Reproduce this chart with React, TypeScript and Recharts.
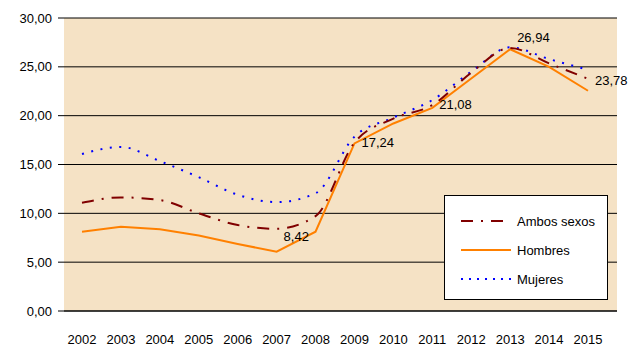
import { CartesianGrid, LabelList, Legend, Line, LineChart, XAxis, YAxis } from 'recharts';

const years = ['2002', '2003', '2004', '2005', '2006', '2007', '2008', '2009', '2010', '2011', '2012', '2013', '2014', '2015'];
const ambos = [11.08, 11.63, 11.36, 10.0, 8.8, 8.42, 9.72, 17.24, 19.7, 21.08, 24.4, 26.94, 25.35, 23.78];
const hombres = [8.12, 8.62, 8.38, 7.72, 6.86, 6.07, 8.12, 17.16, 19.2, 20.8, 23.8, 26.8, 25.0, 22.55];
const mujeres = [16.07, 16.8, 15.35, 13.7, 11.9, 11.15, 12.05, 17.85, 19.8, 21.6, 24.5, 27.0, 25.8, 24.7];
const yTicks = [0, 5, 10, 15, 20, 25, 30];
const labeledYears = ['2007', '2009', '2011', '2013', '2015'];

const data = years.map((year, i) => ({
  year,
  ambos: ambos[i],
  hombres: hombres[i],
  mujeres: mujeres[i],
}));

const fmt = (v: number) => v.toFixed(2).replace('.', ',');

const FONT = '"Liberation Sans", Arial, sans-serif';

// tweak offsets per labelled point so text sits like the original
const labelDy: Record<string, number> = { '2007': 8, '2009': 0, '2011': -1, '2013': -10.5, '2015': 2 };

const series = [
  { key: 'ambos', name: 'Ambos sexos', color: '#800000', dash: '12 8 2 8' },
  { key: 'hombres', name: 'Hombres', color: '#FF8000', dash: undefined },
  { key: 'mujeres', name: 'Mujeres', color: '#0000FF', dash: '2 6' },
];

function renderLegend() {
  return (
    <svg width={164} height={105} style={{ display: 'block' }}>
      <rect x={0.5} y={0.5} width={163} height={104} fill="#fff" stroke="#000" />
      {series.map((s, i) => {
        const cy = 26 + i * 29;
        return (
          <g key={s.key}>
            <line x1={17} x2={67} y1={cy} y2={cy} stroke={s.color} strokeWidth={2} strokeDasharray={s.dash} />
            <text x={73} y={cy} dominantBaseline="central" fontSize={13} fontFamily={FONT} fill="#000">
              {s.name}
            </text>
          </g>
        );
      })}
    </svg>
  );
}

function renderLabel(props: any) {
  const { x, y, value, index } = props;
  const year = years[index];
  if (!labeledYears.includes(year)) return null;
  return (
    <text x={x + 7} y={y + labelDy[year]} dominantBaseline="central" fontSize={13} fontFamily={FONT} fill="#000">
      {fmt(value)}
    </text>
  );
}

export default function App() {
  return (
    <div style={{ position: 'relative', width: 640, height: 360, background: '#fff' }}>
      <style>{'body{margin:0}'}</style>
      <LineChart
        width={640}
        height={360}
        data={data}
        margin={{ top: 18, right: 23, bottom: 0, left: 0 }}
        style={{ fontFamily: FONT }}
      >
        <CartesianGrid vertical={false} stroke="#000" fill="#F5E2C5" fillOpacity={1} />
        <XAxis
          dataKey="year"
          padding={{ left: 18, right: 29 }}
          height={49}
          interval={0}
          tickLine={false}
          tickSize={0}
          tickMargin={24}
          axisLine={{ stroke: '#000' }}
          tick={{ fontSize: 13, fill: '#000' }}
        />
        <YAxis
          domain={[0, 30]}
          ticks={yTicks}
          width={64}
          axisLine={false}
          tickLine={{ stroke: '#000' }}
          tickSize={6}
          tickMargin={6}
          tickFormatter={fmt}
          tick={{ fontSize: 13, fill: '#000' }}
        />
        <Legend
          layout="vertical"
          align="center"
          verticalAlign="middle"
          content={renderLegend}
          wrapperStyle={{ position: 'absolute', left: 444, top: 195, width: 164, height: 105 }}
        />
        <Line
          type="monotone"
          dataKey="mujeres"
          name="Mujeres"
          stroke="#0000FF"
          strokeWidth={2}
          strokeDasharray="2 7.5"
          dot={false}
          isAnimationActive={false}
        />
        <Line
          type="linear"
          dataKey="hombres"
          name="Hombres"
          stroke="#FF8000"
          strokeWidth={2}
          dot={false}
          isAnimationActive={false}
        />
        <Line
          type="monotone"
          dataKey="ambos"
          name="Ambos sexos"
          stroke="#800000"
          strokeWidth={2}
          strokeDasharray="12 8 2 8"
          dot={false}
          isAnimationActive={false}
        >
          <LabelList dataKey="ambos" content={renderLabel} />
        </Line>
      </LineChart>
    </div>
  );
}
